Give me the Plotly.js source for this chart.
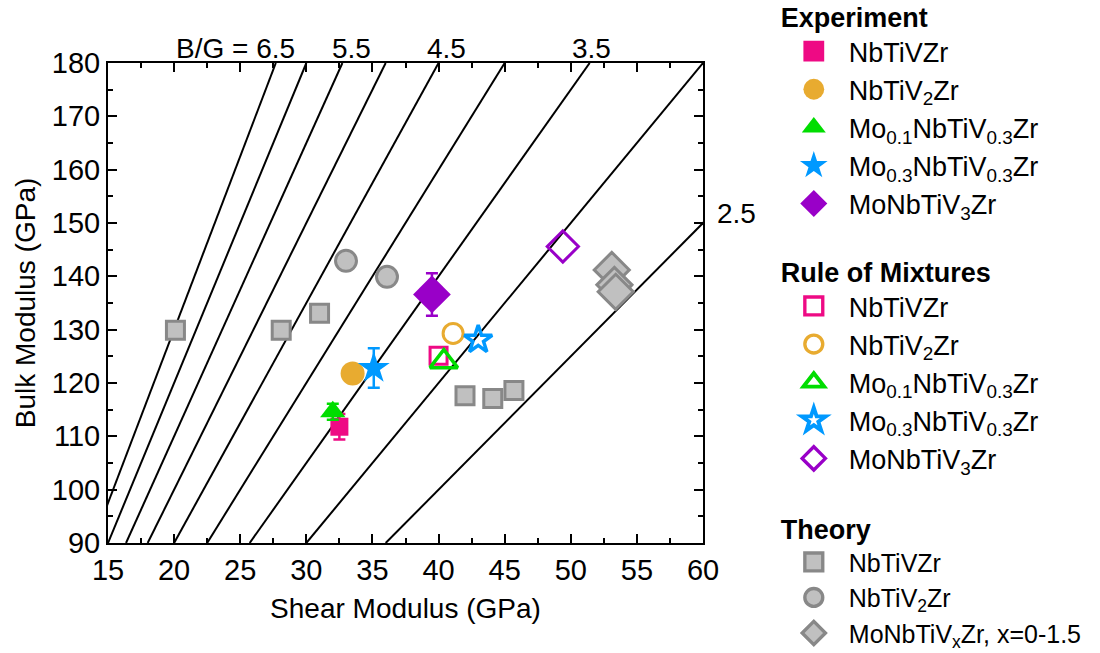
<!DOCTYPE html>
<html>
<head>
<meta charset="utf-8">
<script src="https://cdn.plot.ly/plotly-3.0.1.min.js"></script>
<style>
html,body{margin:0;padding:0;background:#fff;}
#chart{width:1100px;height:653px;}
</style>
</head>
<body>
<div id="chart"></div>
<script>
// ---- B/G guide lines ----
const ratioValues = [6.5, 6.0, 5.5, 5.0, 4.5, 4.0, 3.5, 3.0, 2.5];

// ---- Experiment ----
const expNbTiVZr_G = [32.5];
const expNbTiVZr_B = [111.8];
const expNbTiVZr_err = [2.4];
const expNbTiV2Zr_G = [33.5];
const expNbTiV2Zr_B = [121.8];
const expMo01_G = [32.0];
const expMo01_B = [114.6];
const expMo01_err = [1.5];
const expMo03_G = [35.1];
const expMo03_B = [122.8];
const expMo03_err = [3.7];
const expMoV3_G = [39.5];
const expMoV3_B = [136.6];
const expMoV3_err = [4.0];

// ---- Rule of mixtures ----
const romNbTiVZr_G = [40.0];
const romNbTiVZr_B = [125.1];
const romNbTiV2Zr_G = [41.1];
const romNbTiV2Zr_B = [129.3];
const romMo01_G = [40.4];
const romMo01_B = [124.0];
const romMo03_G = [43.0];
const romMo03_B = [128.1];
const romMoV3_G = [49.4];
const romMoV3_B = [145.6];

// ---- Theory ----
const thNbTiVZr_G = [20.1, 28.1, 31.0, 42.0, 44.1, 45.7];
const thNbTiVZr_B = [129.9, 129.9, 133.1, 117.6, 117.1, 118.6];
const thNbTiV2Zr_G = [33.0, 36.1];
const thNbTiV2Zr_B = [142.9, 139.9];
const thMoNbTiVx_G = [53.1, 53.3, 53.4];
const thMoNbTiVx_B = [141.2, 138.4, 137.1];

// names
const nameNbTiVZr = 'NbTiVZr';
const nameNbTiV2Zr = 'NbTiV<sub>2</sub>Zr';
const nameMo01 = 'Mo<sub>0.1</sub>NbTiV<sub>0.3</sub>Zr';
const nameMo03 = 'Mo<sub>0.3</sub>NbTiV<sub>0.3</sub>Zr';
const nameMoV3 = 'MoNbTiV<sub>3</sub>Zr';
const nameMoVx = 'MoNbTiV<sub>x</sub>Zr, x=0-1.5';

const cPink = '#ee0a84', cOrange = '#e8ab30', cGreen = '#00dd00', cBlue = '#0099ff', cPurple = '#9900c8';
const cGrayFill = '#c0c0c0', cGrayLine = '#888888';

const traces = [];

// guide lines
ratioValues.forEach(k => {
  traces.push({
    x: [90 / k, 180 / k], y: [90, 180], mode: 'lines', type: 'scatter',
    line: {color: '#000', width: 2}, showlegend: false, hoverinfo: 'skip'
  });
});

function errBar(arr, color) {
  return {type: 'data', array: arr, visible: true, color: color, thickness: 2.5, width: 6};
}

// Theory (drawn first, under others)
traces.push({x: thNbTiVZr_G, y: thNbTiVZr_B, name: nameNbTiVZr, mode: 'markers', type: 'scatter', legend: 'legend3',
  marker: {symbol: 'square', size: 18, color: cGrayFill, line: {color: cGrayLine, width: 3}}});
traces.push({x: thNbTiV2Zr_G, y: thNbTiV2Zr_B, name: nameNbTiV2Zr, mode: 'markers', type: 'scatter', legend: 'legend3',
  marker: {symbol: 'circle', size: 21, color: cGrayFill, line: {color: cGrayLine, width: 3}}});
traces.push({x: thMoNbTiVx_G, y: thMoNbTiVx_B, name: nameMoVx, mode: 'markers', type: 'scatter', legend: 'legend3',
  marker: {symbol: 'diamond', size: 27, color: cGrayFill, line: {color: cGrayLine, width: 3}}});

// Rule of mixtures
traces.push({x: romNbTiVZr_G, y: romNbTiVZr_B, name: nameNbTiVZr, mode: 'markers', type: 'scatter', legend: 'legend2',
  marker: {symbol: 'square-open', size: 17, color: cPink, line: {color: cPink, width: 3}}});
traces.push({x: romNbTiV2Zr_G, y: romNbTiV2Zr_B, name: nameNbTiV2Zr, mode: 'markers', type: 'scatter', legend: 'legend2',
  marker: {symbol: 'circle-open', size: 20, color: cOrange, line: {color: cOrange, width: 3}}});
traces.push({x: romMo01_G, y: romMo01_B, name: nameMo01, mode: 'markers', type: 'scatter', legend: 'legend2',
  marker: {symbol: 'triangle-up-open', size: 24, color: cGreen, line: {color: cGreen, width: 3.5}}});
traces.push({x: romMo03_G, y: romMo03_B, name: nameMo03, mode: 'markers', type: 'scatter', legend: 'legend2',
  marker: {symbol: 'star-open', size: 21, color: cBlue, line: {color: cBlue, width: 3.5}}});
traces.push({x: romMoV3_G, y: romMoV3_B, name: nameMoV3, mode: 'markers', type: 'scatter', legend: 'legend2',
  marker: {symbol: 'diamond-open', size: 24, color: cPurple, line: {color: cPurple, width: 3}}});

// Experiment
traces.push({x: expNbTiVZr_G, y: expNbTiVZr_B, name: nameNbTiVZr, mode: 'markers', type: 'scatter', legend: 'legend',
  error_y: errBar(expNbTiVZr_err, cPink),
  marker: {symbol: 'square', size: 18, color: cPink}});
traces.push({x: expNbTiV2Zr_G, y: expNbTiV2Zr_B, name: nameNbTiV2Zr, mode: 'markers', type: 'scatter', legend: 'legend',
  marker: {symbol: 'circle', size: 24, color: cOrange}});
traces.push({x: expMo01_G, y: expMo01_B, name: nameMo01, mode: 'markers', type: 'scatter', legend: 'legend',
  error_y: errBar(expMo01_err, cGreen),
  marker: {symbol: 'triangle-up', size: 22, color: cGreen}});
traces.push({x: expMo03_G, y: expMo03_B, name: nameMo03, mode: 'markers', type: 'scatter', legend: 'legend',
  error_y: errBar(expMo03_err, cBlue),
  marker: {symbol: 'star', size: 24, color: cBlue}});
traces.push({x: expMoV3_G, y: expMoV3_B, name: nameMoV3, mode: 'markers', type: 'scatter', legend: 'legend',
  error_y: errBar(expMoV3_err, cPurple),
  marker: {symbol: 'diamond', size: 29, color: cPurple}});

const FONT = 'Arial, "Liberation Sans", sans-serif';
const axisCommon = {
  showline: true, linecolor: '#000', linewidth: 2, mirror: 'ticks',
  ticks: 'inside', ticklen: 9, tickwidth: 2, tickcolor: '#000',
  showgrid: false, zeroline: false,
  tickfont: {size: 29, color: '#000'},
  minor: {ticks: 'inside', ticklen: 5, tickwidth: 2, tickcolor: '#000', showgrid: false}
};

const legendCommon = {
  xref: 'container', yref: 'container', xanchor: 'left', yanchor: 'top',
  font: {size: 27, color: '#000'}, bgcolor: 'rgba(0,0,0,0)', borderwidth: 0,
  itemsizing: 'trace', itemwidth: 60, tracegroupgap: 0, itemclick: false
};

const layout = {
  width: 1100, height: 653,
  margin: {l: 108, r: 397, t: 63, b: 110},
  paper_bgcolor: '#fff', plot_bgcolor: '#fff',
  font: {family: FONT, color: '#000'},
  showlegend: true,
  xaxis: Object.assign({}, axisCommon, {
    range: [15, 60], tick0: 15, dtick: 5, minor: Object.assign({}, axisCommon.minor, {dtick: 2.5}),
    title: {text: 'Shear Modulus (GPa)', font: {size: 28}, standoff: 14}
  }),
  yaxis: Object.assign({}, axisCommon, {
    range: [90, 180], tick0: 90, dtick: 10, minor: Object.assign({}, axisCommon.minor, {dtick: 5}),
    title: {text: 'Bulk Modulus (GPa)', font: {size: 28}, standoff: 8}
  }),
  legend: Object.assign({}, legendCommon, {x: 0.708, y: 1.0, title: {text: '<b>Experiment</b>', font: {size: 27}}}),
  legend2: Object.assign({}, legendCommon, {x: 0.708, y: 0.622, title: {text: '<b>Rule of Mixtures</b>', font: {size: 27}}}),
  legend3: Object.assign({}, legendCommon, {x: 0.708, y: 0.228, font: {size: 25, color: '#000'}, title: {text: '<b>Theory</b>', font: {size: 27}}}),
  annotations: [
    {text: 'B/G = 6.5', xref: 'x', yref: 'paper', x: 29.3, y: 1.031, xanchor: 'right', yanchor: 'middle', showarrow: false, font: {size: 28}},
    {text: '5.5', xref: 'x', yref: 'paper', x: 33.4, y: 1.031, xanchor: 'center', yanchor: 'middle', showarrow: false, font: {size: 28}},
    {text: '4.5', xref: 'x', yref: 'paper', x: 40.6, y: 1.031, xanchor: 'center', yanchor: 'middle', showarrow: false, font: {size: 28}},
    {text: '3.5', xref: 'x', yref: 'paper', x: 51.6, y: 1.031, xanchor: 'center', yanchor: 'middle', showarrow: false, font: {size: 28}},
    {text: '2.5', xref: 'paper', yref: 'paper', x: 1.057, y: 0.6875, xanchor: 'center', yanchor: 'middle', showarrow: false, font: {size: 28}}
  ]
};

Plotly.newPlot('chart', traces, layout, {staticPlot: true, displayModeBar: false}).then(gd => {
  // enlarge legend symbols to match the reference glyph size
  const scaleIn = (sel, s) => gd.querySelectorAll(sel + ' .legendpoints path.scatterpts').forEach(p => {
    const t = p.getAttribute('transform') || '';
    p.setAttribute('transform', t + ' scale(' + s + ')');
  });
  scaleIn('g.legend', 1.3);
  scaleIn('g.legend2', 1.12);
  scaleIn('g.legend3', 1.12);
  // lift the Experiment block slightly, as in the reference
  const lg = gd.querySelector('g.legend');
  if (lg) {
    const t = lg.getAttribute('transform') || '';
    lg.setAttribute('transform', t + ' translate(0,-8)');
  }
});
</script>
</body>
</html>
